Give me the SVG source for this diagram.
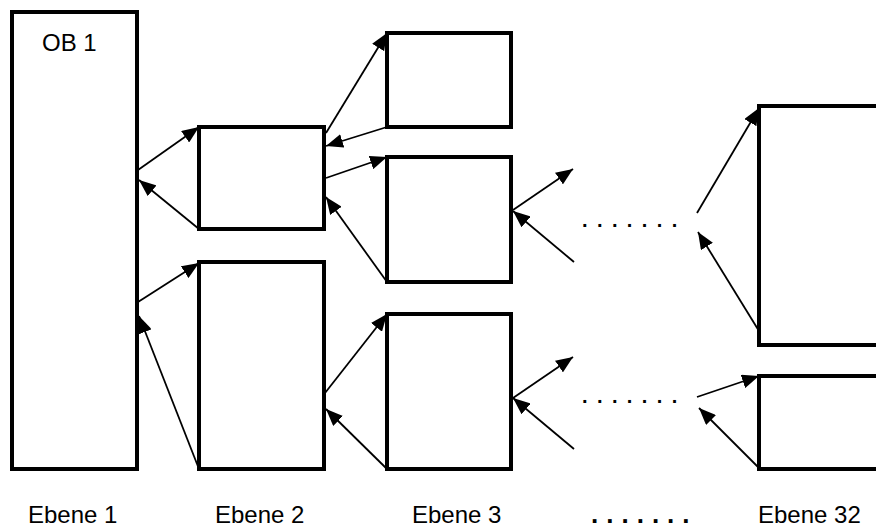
<svg xmlns="http://www.w3.org/2000/svg" width="876" height="529" viewBox="0 0 876 529">
<style>
.box{fill:#fff;stroke:#000;stroke-width:4}
.con line{stroke:#000;stroke-width:1.8;marker-end:url(#ah)}
.lbl{font-family:"Liberation Sans",Arial,sans-serif;font-size:24px;fill:#000}
.dots{font-family:"Liberation Sans",Arial,sans-serif;font-size:24px;font-weight:bold;fill:#000;letter-spacing:8.3px}
</style>
<defs>
<marker id="ah" markerUnits="userSpaceOnUse" markerWidth="17" markerHeight="14" refX="17" refY="7" orient="auto">
<path d="M0,0 L17,7 L0,14 z" fill="#000"/>
</marker>
</defs>
<rect width="876" height="529" fill="#fff"/>
<g id="ob1"><rect class="box" x="12" y="12" width="125" height="457"/><text class="lbl" x="42" y="51">OB 1</text></g>
<g id="e2a"><rect class="box" x="199" y="127" width="125" height="102"/></g>
<g id="e2b"><rect class="box" x="199" y="262" width="125" height="207"/></g>
<g id="e3a"><rect class="box" x="387" y="33" width="124" height="94"/></g>
<g id="e3b"><rect class="box" x="387" y="157" width="124" height="125"/></g>
<g id="e3c"><rect class="box" x="387" y="314" width="124" height="155"/></g>
<g id="e32a"><rect class="box" x="759" y="106" width="140" height="239"/></g>
<g id="e32b"><rect class="box" x="759" y="376" width="140" height="93"/></g>
<g id="connectors" class="con">
<line x1="138" y1="170" x2="199" y2="127"/>
<line x1="199" y1="229" x2="139" y2="180"/>
<line x1="138" y1="302" x2="199" y2="263"/>
<line x1="199" y1="469" x2="139" y2="316"/>
<line x1="326" y1="133" x2="387" y2="33"/>
<line x1="387" y1="127" x2="326" y2="146"/>
<line x1="326" y1="178" x2="387" y2="157"/>
<line x1="387" y1="282" x2="326" y2="197"/>
<line x1="325" y1="393" x2="387" y2="314"/>
<line x1="387" y1="469" x2="326" y2="409"/>
<line x1="513" y1="210" x2="573" y2="169"/>
<line x1="574" y1="262" x2="513" y2="211"/>
<line x1="513" y1="398" x2="573" y2="357"/>
<line x1="574" y1="449" x2="513" y2="398"/>
<line x1="697" y1="213" x2="759" y2="108"/>
<line x1="759" y1="331" x2="698" y2="232"/>
<line x1="697" y1="397" x2="759" y2="376"/>
<line x1="759" y1="468" x2="699" y2="408"/>
</g>
<g id="labels">
<text class="dots" x="582" y="227" style="font-size:20px;letter-spacing:9.4px">.......</text>
<text class="dots" x="582" y="403" style="font-size:20px;letter-spacing:9.4px">.......</text>
<text class="lbl" x="28" y="523">Ebene 1</text>
<text class="lbl" x="215" y="523">Ebene 2</text>
<text class="lbl" x="412" y="523">Ebene 3</text>
<text class="dots" x="591" y="523" style="font-size:26px;letter-spacing:8px">.......</text>
<text class="lbl" x="758" y="523">Ebene 32</text>
</g>
</svg>
